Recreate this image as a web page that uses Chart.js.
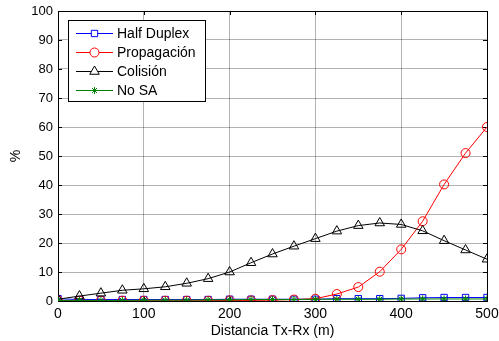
<!DOCTYPE html>
<html>
<head>
<meta charset="utf-8">
<script src="https://cdn.jsdelivr.net/npm/chart.js@4/dist/chart.umd.min.js"></script>
<style>
  html,body{margin:0;padding:0;background:#fff;}
  #wrap{width:499px;height:341px;position:relative;}
</style>
</head>
<body>
<div id="wrap"><canvas id="chart" width="499" height="341"></canvas></div>
<script>
// distance Tx-Rx (m), one sample every 25 m
const distances   = [0,25,50,75,100,125,150,175,200,225,250,275,300,325,350,375,400,425,450,475,500];
const halfDuplex  = [0.8,0.5,0.5,0.5,0.5,0.5,0.5,0.5,0.6,0.6,0.6,0.6,0.6,0.8,0.8,0.8,0.9,1.1,1.2,1.2,1.2];
const propagacion = [0.2,0.1,0.1,0.1,0.1,0.1,0.1,0.1,0.2,0.2,0.3,0.5,0.8,2.4,4.8,10.1,17.8,27.5,40.2,51,60];
const colision    = [0.6,1.7,2.7,3.7,4.2,4.9,6.1,7.7,10,13.2,16.2,18.9,21.5,24.1,26,26.9,26.4,24.2,20.8,17.6,14.4];
const noSA        = [0.2,0.2,0.2,0.2,0.3,0.3,0.3,0.4,0.4,0.5,0.5,0.5,0.6,0.6,0.6,0.6,0.7,0.7,0.7,0.7,0.7];
const xTicks = [0,100,200,300,400,500];

const FONT = '"Liberation Sans", Arial, sans-serif';
const pts = arr => distances.map((d,i)=>({x:d, y:arr[i]}));

const series = [
  {label:'Half Duplex', data:pts(halfDuplex),  color:'#0000ff', style:'rect',     r:4.5, order:4},
  {label:'Propagación', data:pts(propagacion), color:'#ff0000', style:'circle',   r:4.5, order:3},
  {label:'Colisión',    data:pts(colision),    color:'#000000', style:'triangle', r:5.5, order:2},
  {label:'No SA',       data:pts(noSA),        color:'#008000', style:'star',     r:3.5, order:1}
];

// matlab-like legend box with line + marker
const legendBox = {
  id:'legendBox',
  afterDraw(chart){
    const ctx = chart.ctx;
    const x0 = 68.5, y0 = 20.5, w = 137, h = 81;
    ctx.save();
    ctx.fillStyle = '#fff';
    ctx.fillRect(x0, y0, w, h);
    ctx.strokeStyle = '#000';
    ctx.lineWidth = 1;
    ctx.strokeRect(x0, y0, w, h);
    ctx.font = '14px ' + FONT;
    ctx.textBaseline = 'middle';
    chart.data.datasets.forEach((ds,i)=>{
      const y = 33.5 + i*19;
      ctx.strokeStyle = ds.borderColor;
      ctx.beginPath(); ctx.moveTo(76, y); ctx.lineTo(113, y); ctx.stroke();
      ctx.fillStyle = '#fff';
      Chart.helpers.drawPoint(ctx, {pointStyle: ds.pointStyle, radius: ds.pointRadius, borderWidth:1}, 94.5, y);
      ctx.fillStyle = '#000';
      ctx.fillText(ds.label, 117, y + 1);
    });
    ctx.restore();
  }
};

// full box around the plot + inward tick marks
const frame = {
  id:'frame',
  beforeDatasetsDraw(chart){
    const a = chart.chartArea, ctx = chart.ctx;
    const xs = chart.scales.x, ys = chart.scales.y;
    ctx.save();
    ctx.strokeStyle = '#000';
    ctx.lineWidth = 1;
    ctx.beginPath();
    xTicks.forEach(v=>{
      const px = Math.round(xs.getPixelForValue(v)) + 0.5;
      ctx.moveTo(px, a.top); ctx.lineTo(px, a.top + 4);
      ctx.moveTo(px, a.bottom); ctx.lineTo(px, a.bottom - 4);
    });
    for(let v=0; v<=100; v+=10){
      const py = Math.round(ys.getPixelForValue(v)) + 0.5;
      ctx.moveTo(a.left, py); ctx.lineTo(a.left + 4, py);
      ctx.moveTo(a.right, py); ctx.lineTo(a.right - 4, py);
    }
    ctx.stroke();
    ctx.strokeRect(Math.round(a.left)+0.5, Math.round(a.top)+0.5, Math.round(a.right-a.left), Math.round(a.bottom-a.top));
    ctx.restore();
  }
};

new Chart(document.getElementById('chart'), {
  type:'line',
  data:{
    datasets: series.map(s=>({
      label:s.label, data:s.data,
      borderColor:s.color, backgroundColor:'transparent',
      pointStyle:s.style, pointRadius:s.r, pointBorderColor:s.color,
      pointBackgroundColor:'transparent', pointBorderWidth:1,
      borderWidth:1, tension:0, order:s.order
    }))
  },
  options:{
    responsive:false, animation:false,
    layout:{padding:{left:0, right:12, top:11, bottom:0}},
    plugins:{legend:{display:false}, tooltip:{enabled:false}},
    scales:{
      x:{
        type:'linear', min:0, max:500,
        afterFit: s => { s.height = 40; s.paddingLeft = 0; s.paddingRight = 0; },
        afterBuildTicks: s => { s.ticks = xTicks.map(v=>({value:v})); },
        grid:{color:'rgba(0,0,0,0.3)', drawTicks:false},
        border:{color:'#000'},
        ticks:{color:'#000', padding:5, font:{family:FONT, size:14}, maxRotation:0},
        title:{display:true, text:'Distancia Tx-Rx (m)', color:'#000', font:{family:FONT, size:14}, padding:{top:0, bottom:1}}
      },
      y:{
        min:0, max:100,
        afterFit: s => { s.width = 58; s.paddingTop = 0; s.paddingBottom = 0; },
        grid:{color:'rgba(0,0,0,0.3)', drawTicks:false},
        border:{color:'#000'},
        ticks:{color:'#000', stepSize:10, padding:5, font:{family:FONT, size:13}},
        title:{display:true, text:'%', color:'#000', font:{family:FONT, size:14}, padding:{top:8, bottom:0}}
      }
    }
  },
  plugins:[frame, legendBox]
});
</script>
</body>
</html>
